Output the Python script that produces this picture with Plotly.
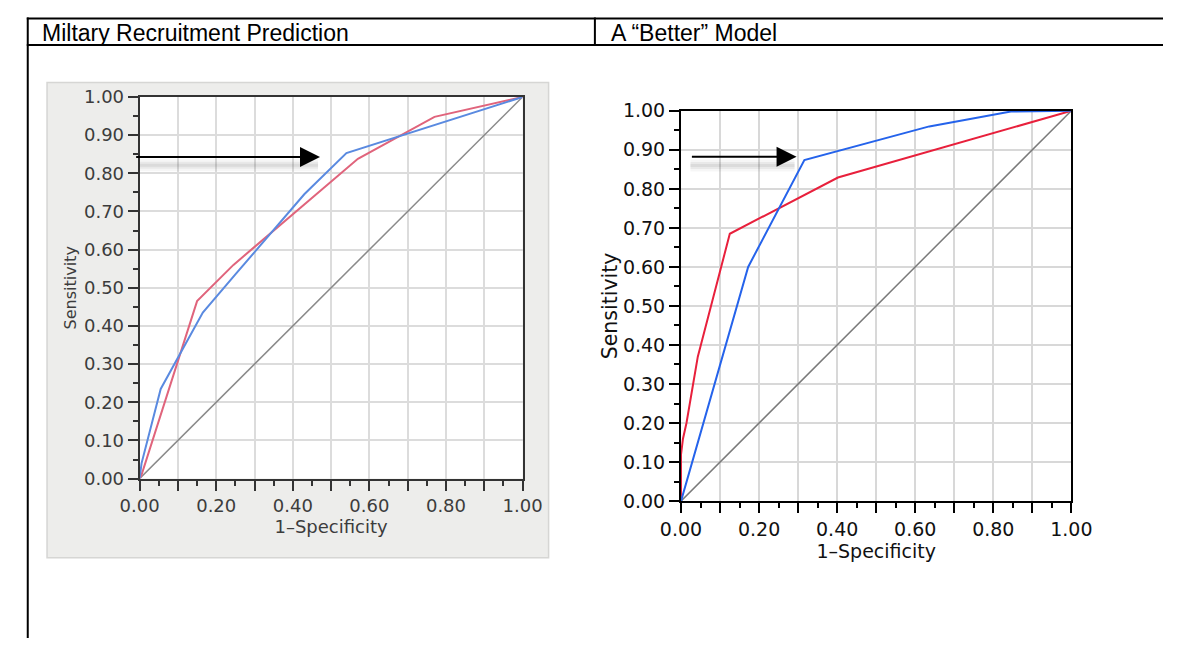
import plotly.graph_objects as go

W, H = 1184, 649

# ---------------- data ----------------
left_red_fpr = [0.0, 0.005, 0.15, 0.245, 0.57, 0.77, 1.0]
left_red_tpr = [0.0, 0.01, 0.465, 0.56, 0.838, 0.948, 1.0]
left_blue_fpr = [0.0, 0.005, 0.055, 0.165, 0.25, 0.43, 0.54, 1.0]
left_blue_tpr = [0.0, 0.04, 0.235, 0.435, 0.535, 0.745, 0.853, 1.0]

right_red_fpr = [0.0, 0.0, 0.005, 0.014, 0.031, 0.043, 0.125, 0.402, 1.0]
right_red_tpr = [0.0, 0.12, 0.16, 0.2, 0.3, 0.37, 0.685, 0.829, 1.0]
right_blue_fpr = [0.0, 0.172, 0.316, 0.636, 0.845, 1.0]
right_blue_tpr = [0.0, 0.6, 0.874, 0.96, 0.998, 1.0]

diag = [0.0, 1.0]

tick_vals = [0.0, 0.1, 0.2, 0.3, 0.4, 0.5, 0.6, 0.7, 0.8, 0.9, 1.0]
x_tick_text = ["0.00", "", "0.20", "", "0.40", "", "0.60", "", "0.80", "", "1.00"]
y_tick_text = ["0.00", "0.10", "0.20", "0.30", "0.40", "0.50", "0.60", "0.70", "0.80", "0.90", "1.00"]

left_title = "Miltary Recruitment Prediction"
right_title = "A \u201cBetter\u201d Model"
x_title = "1\u2013Specificity"
y_title = "Sensitivity"

# arrows (tip / tail in data units)
left_arrow = dict(tip=(0.471, 0.843), tail=(-0.013, 0.843))
right_arrow = dict(tip=(0.296, 0.882), tail=(0.024, 0.882))


def px(x):
    return x / W


def py(y):
    return 1 - y / H


fig = go.Figure()

# left traces
fig.add_trace(go.Scatter(x=diag, y=diag, mode="lines", line=dict(color="#8a8a8a", width=1.5),
                         xaxis="x", yaxis="y", showlegend=False, hoverinfo="skip"))
fig.add_trace(go.Scatter(x=left_red_fpr, y=left_red_tpr, mode="lines",
                         line=dict(color="#e0647c", width=2), xaxis="x", yaxis="y", showlegend=False))
fig.add_trace(go.Scatter(x=left_blue_fpr, y=left_blue_tpr, mode="lines",
                         line=dict(color="#5a8ae0", width=2), xaxis="x", yaxis="y", showlegend=False))
# right traces
fig.add_trace(go.Scatter(x=diag, y=diag, mode="lines", line=dict(color="#7a7a7a", width=1.5),
                         xaxis="x2", yaxis="y2", showlegend=False, hoverinfo="skip"))
fig.add_trace(go.Scatter(x=right_red_fpr, y=right_red_tpr, mode="lines",
                         line=dict(color="#e8203c", width=2), xaxis="x2", yaxis="y2", showlegend=False))
fig.add_trace(go.Scatter(x=right_blue_fpr, y=right_blue_tpr, mode="lines",
                         line=dict(color="#2563eb", width=2), xaxis="x2", yaxis="y2", showlegend=False))

left_font = dict(family="DejaVu Sans", size=18, color="#3c3c3c")
right_font = dict(family="DejaVu Sans", size=19, color="#111111")


def axis(domain, anchor, ticktext, font, gridcolor, gridwidth, linecolor, title, tfont, standoff):
    return dict(
        domain=domain, anchor=anchor, range=[0, 1], tickmode="array", tickvals=tick_vals,
        ticktext=ticktext, ticks="outside", ticklen=10, tickwidth=2, tickcolor=linecolor,
        tickfont=font, showgrid=True, gridcolor=gridcolor, gridwidth=gridwidth,
        showline=True, linecolor=linecolor, linewidth=2, mirror=True, zeroline=False,
        minor=dict(tickmode="linear", tick0=0, dtick=0.05, ticks="outside", ticklen=5,
                   tickwidth=2, tickcolor=linecolor, showgrid=False),
        title=dict(text=title, font=tfont, standoff=standoff),
    )


fig.update_layout(
    width=W, height=H, margin=dict(l=0, r=0, t=0, b=0), autosize=False,
    paper_bgcolor="white", plot_bgcolor="white",
    xaxis=axis([px(123), px(520)], "y", x_tick_text, left_font, "#dcdcdc", 1.5, "#333333",
               x_title, dict(family="DejaVu Sans", size=18, color="#3c3c3c"), 2),
    yaxis=axis([py(484), py(89)], "x", y_tick_text, left_font, "#dcdcdc", 1.5, "#333333",
               y_title, dict(family="DejaVu Sans", size=16, color="#3c3c3c"), 3),
    xaxis2=axis([px(684.3), px(1089)], "y2", x_tick_text, right_font, "#d8d8d8", 2, "#000000",
                x_title, dict(family="DejaVu Sans", size=19, color="#111111"), 4),
    yaxis2=axis([py(507.3), py(103.3)], "x2", y_tick_text, right_font, "#d8d8d8", 2, "#000000",
                y_title, dict(family="DejaVu Sans", size=20.5, color="#111111"), 0),
)

shapes = []
# left screenshot panel
shapes.append(dict(type="rect", xref="paper", yref="paper", x0=px(27), x1=px(547), y0=py(566), y1=py(74),
                   fillcolor="#ededeb", line=dict(color="#d6d6d4", width=1.5), layer="below"))
shapes.append(dict(type="rect", xref="paper", yref="paper", x0=px(123), x1=px(520), y0=py(484), y1=py(89),
                   fillcolor="white", line=dict(width=0), layer="below"))
# table lines
line_kw = dict(color="black", width=2)
shapes.append(dict(type="line", xref="paper", yref="paper", x0=px(6), x1=1, y0=py(7.7), y1=py(7.7), line=line_kw))
shapes.append(dict(type="line", xref="paper", yref="paper", x0=px(6), x1=1, y0=py(35.2), y1=py(35.2), line=line_kw))
shapes.append(dict(type="line", xref="paper", yref="paper", x0=px(7), x1=px(7), y0=py(6.7), y1=0, line=line_kw))
shapes.append(dict(type="line", xref="paper", yref="paper", x0=px(595), x1=px(595), y0=py(6.7), y1=py(35.2), line=line_kw))

# arrow shadows
for (arr, xr, yr, dy) in [(left_arrow, "x", "y", 0.022), (right_arrow, "x2", "y2", 0.022)]:
    (tx, ty), (ax_, ay_) = arr["tip"], arr["tail"]
    for w, a in [(12, 0.035), (7, 0.05), (3, 0.06)]:
        shapes.append(dict(type="line", xref=xr, yref=yr, x0=max(ax_, 0.0), x1=tx - 0.005,
                           y0=ty - dy, y1=ty - dy, line=dict(color=f"rgba(0,0,0,{a})", width=w)))

fig.update_layout(shapes=shapes)

annotations = [
    dict(text=left_title, xref="paper", yref="paper", x=px(20), y=py(22.5), xanchor="left", yanchor="middle",
         showarrow=False, font=dict(family="Liberation Sans", size=23, color="black")),
    dict(text=right_title, xref="paper", yref="paper", x=px(610), y=py(22.5), xanchor="left", yanchor="middle",
         showarrow=False, font=dict(family="Liberation Sans", size=23, color="black")),
]
for arr, xr, yr in [(left_arrow, "x", "y"), (right_arrow, "x2", "y2")]:
    (tx, ty), (ax_, ay_) = arr["tip"], arr["tail"]
    annotations.append(dict(x=tx, y=ty, ax=ax_, ay=ay_, xref=xr, yref=yr, axref=xr, ayref=yr,
                            text="", showarrow=True, arrowhead=2, arrowsize=2, arrowwidth=2,
                            arrowcolor="black"))
fig.update_layout(annotations=annotations)

fig.write_html(
    "out.html",
    config={"responsive": False, "displayModeBar": False},
    post_script="document.body.style.margin='0';document.body.style.padding='0';"
                "document.documentElement.style.margin='0';document.body.style.overflow='hidden';",
)
